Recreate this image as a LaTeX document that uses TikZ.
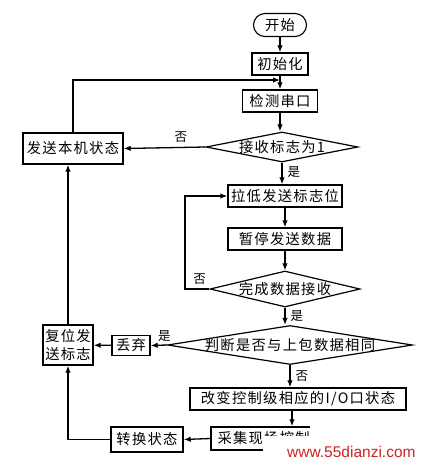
\documentclass[tikz,border=0pt]{standalone}
\usepackage{fontspec}
\setmainfont{Noto Sans CJK SC}[LetterSpace=9]
\newfontfamily\wmfont{Liberation Sans}
\usetikzlibrary{shapes.geometric,arrows.meta}
\definecolor{wmred}{RGB}{205,35,35}
\begin{document}
\begin{tikzpicture}[x=1pt,y=-1pt,
  font=\fontsize{14.3}{16}\selectfont,
  procbox/.style={draw, line width=1.4pt, inner sep=0pt, align=center},
  decis/.style={draw, diamond, line width=1.2pt, inner sep=0pt},
  conn/.style={line width=1.3pt, -{Latex[length=7pt,width=5.5pt]}},
  lbl/.style={font=\fontsize{12.5}{14}\selectfont, inner sep=0pt},
  wm/.style={font=\wmfont\fontsize{15.5}{17}\selectfont, text=wmred, inner sep=0pt}]
\useasboundingbox[fill=white] (0,0) rectangle (421,464);
% nodes
\node[procbox, line width=1.1pt, rounded corners=11.5pt, minimum width=53pt, minimum height=23pt] (start) at (280,25) {开始};
\node[procbox, minimum width=56pt, minimum height=22pt] (init) at (280,64) {初始化};
\node[procbox, minimum width=75pt, minimum height=22pt] (detect) at (280,101) {检测串口};
\node[decis, minimum width=152pt, minimum height=30pt] (d1) at (282,147) {};
\node (d1t) at (d1) {接收标志为1};
\node[procbox, minimum width=100pt, minimum height=31pt] (send) at (73,148.5) {发送本机状态};
\node[procbox, minimum width=114pt, minimum height=22pt] (low) at (285,196) {拉低发送标志位};
\node[procbox, minimum width=114pt, minimum height=22pt] (pause) at (285,239) {暂停发送数据};
\node[decis, minimum width=150pt, minimum height=36pt] (d2) at (285,289) {};
\node (d2t) at (d2) {完成数据接收};
\node[decis, minimum width=245pt, minimum height=39pt] (d3) at (290,345) {};
\node (d3t) at (d3) {判断是否与上包数据相同};
\node[procbox, minimum width=38pt, minimum height=20pt] (discard) at (131,345.5) {丢弃};
\node[procbox, minimum width=50pt, minimum height=40pt, font=\fontsize{14.3}{18}\selectfont] (reset) at (68,345) {复位发\\送标志};
\node[procbox, minimum width=216pt, minimum height=22pt] (change) at (298,399) {改变控制级相应的I/O口状态};
\node[procbox, minimum width=162pt, minimum height=23pt] (collect) at (292,438.5) {};
\node[anchor=west, inner sep=0pt] (collectt) at ([xshift=7pt]collect.west) {采集现场控制};
\node[procbox, minimum width=72pt, minimum height=25pt] (convert) at (147,439.5) {转换状态};
\coordinate (j1) at (280,80);
\coordinate (j2) at (185,289);
% connectors
\draw[conn] (start) -- (init);
\draw[conn] (init) -- (detect);
\draw[conn] (detect.south) -- (detect.south |- d1.north);
\draw[conn] (d1.west) -- node[lbl, above=4pt, pos=0.3] {否} (send.east);
\draw[conn] (send.north) |- (j1);
\draw[conn] (d1.south) -- node[lbl, right=5pt, pos=0.45] {是} (d1.south |- low.north);
\draw[conn] (low) -- (pause);
\draw[conn] (pause.south) -- (pause.south |- d2.north);
\draw[conn] (d2.west) -- node[lbl, above=4pt, pos=0.4] {否} (j2) |- (low.west);
\draw[conn] (d2.south) -- node[lbl, right=5pt, midway] {是} (d2.south |- d3.north);
\draw[conn] (d3.west) -- node[lbl, above=3pt, pos=0.15] {是} (discard.east);
\draw[conn] (discard) -- (reset);
\draw[conn] (d3.south) -- node[lbl, right=5pt, midway] {否} (d3.south |- change.north);
\draw[conn] (collect.north |- change.south) -- (collect.north);
\draw[conn] (collect.west) -- (convert.east);
\draw[conn] (convert.west) -| (reset.south);
\draw[conn] (reset.north) -- (reset.north |- send.south);
% watermark
\fill[white] (263,436) rectangle (312,464);
\fill[white] (310,425) rectangle (421,464);
\node[wm, anchor=west] (wmark) at (287,452) {www.55dianzi.com};
\end{tikzpicture}
\end{document}
